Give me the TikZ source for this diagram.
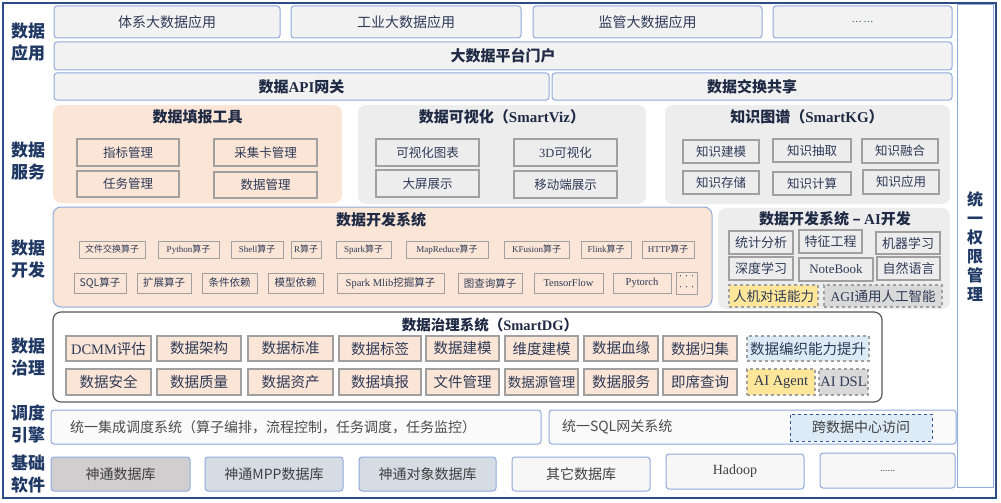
\documentclass[tikz,border=0pt]{standalone}
\usepackage{fontspec}
\setmainfont{Noto Sans CJK SC}
\newfontfamily\ser{Liberation Serif}
\newcommand\lat[1]{{\ser #1}}
\definecolor{navy}{HTML}{1F3864}
\definecolor{frame}{HTML}{2F4B85}
\definecolor{bl}{HTML}{8FAADC}
\definecolor{lg}{HTML}{F2F2F2}
\definecolor{peach}{HTML}{FBE5D6}
\definecolor{grayp}{HTML}{EDEDED}
\definecolor{gbd}{HTML}{A0A0A0}
\definecolor{txt}{HTML}{2E3A57}
\definecolor{ttl}{HTML}{1F2A44}
\definecolor{yel}{HTML}{FFE699}
\definecolor{lblue}{HTML}{DDEBF7}
\definecolor{dgray}{HTML}{D9D9D9}
\definecolor{dbl}{HTML}{2F5597}
\definecolor{bgray}{HTML}{D0CECE}
\definecolor{bblue}{HTML}{D6DCE4}
\definecolor{bwhite}{HTML}{F7F7F7}
\newcommand\bx[7]{\node[#6,minimum width={(#4)-(#2)},minimum height={(#5)-(#3)}] (#1) at ({((#2)+(#4))/2},{((#3)+(#5))/2}) {#7};}
\tikzset{
  every node/.style={inner sep=0pt,outer sep=0pt,text=txt},
  appbox/.style={draw=bl,fill=lg,line width=1pt,rounded corners=3pt,font=\fontsize{14}{16}\selectfont},
  appbold/.style={appbox,font=\fontsize{15}{17}\selectfont\bfseries,text=ttl},
  sidelbl/.style={align=center,font=\fontsize{17}{22}\selectfont\bfseries,text=navy},
  ttlnode/.style={font=\fontsize{15}{17}\selectfont\bfseries,text=ttl},
  peachpanel/.style={fill=peach,rounded corners=8pt},
  graypanel/.style={fill=grayp,rounded corners=8pt},
  svbox/.style={draw=gbd,line width=1.1pt,font=\fontsize{12.5}{14}\selectfont},
  opbox/.style={draw=gbd,line width=0.9pt,font=\fontsize{9}{10}\selectfont},
  opbox2/.style={draw=gbd,line width=0.9pt,font=\fontsize{10.5}{11}\selectfont},
  aibox/.style={draw=gbd,line width=1.1pt,fill=grayp,font=\fontsize{13}{14}\selectfont},
  dashbox/.style={draw=gbd,dashed,line width=1.1pt},
  gvbox/.style={draw=gbd,fill=peach,line width=1.2pt,font=\fontsize{14.5}{16}\selectfont},
  schbox/.style={draw=bl,fill=white!60!lg,line width=1pt,rounded corners=3pt,font=\fontsize{14}{16}\selectfont,text=black!70},
  basebox/.style={draw=bl,line width=1pt,rounded corners=3pt,font=\fontsize{14}{16}\selectfont,text=black!75}
}
\begin{document}
\begin{tikzpicture}[x=1pt,y=-1pt]
\useasboundingbox (0,0) rectangle (1001,503);
\fill[white] (0,0) rectangle (1001,503);
% outer frame
\draw[frame,line width=2pt] (3,3) rectangle (996,498);
% permission box
\bx{perm}{957}{5}{993}{487}{draw=bl,line width=1pt,fill=white}{}
\node[align=center,font=\fontsize{16}{19}\selectfont\bfseries,text=navy] (permt) at (975,247) {统\\一\\权\\限\\管\\理};
% side labels
\node[sidelbl] (l1) at (28,42) {数据\\应用};
\node[sidelbl] (l2) at (28,161) {数据\\服务};
\node[sidelbl] (l3) at (28,259) {数据\\开发};
\node[sidelbl] (l4) at (28,357) {数据\\治理};
\node[sidelbl] (l5) at (28,424) {调度\\引擎};
\node[sidelbl] (l6) at (28,474) {基础\\软件};
% application layer
\bx{a1}{54}{6}{280}{38}{appbox}{体系大数据应用}
\bx{a2}{291}{6}{521}{38}{appbox}{工业大数据应用}
\bx{a3}{533}{6}{762}{38}{appbox}{监管大数据应用}
\bx{a4}{773}{6}{952}{38}{appbox,font=\fontsize{9}{10}\selectfont}{…\ …}
\bx{a5}{54}{42}{952}{70}{appbold}{大数据平台门户}
\bx{a6}{54}{73}{549}{100}{appbold}{数据\lat{API}网关}
\bx{a7}{552}{73}{952}{100}{appbold}{数据交换共享}
% services
\bx{p1}{53}{105}{342}{203}{peachpanel}{}
\node[ttlnode] (p1t) at (197.5,117) {数据填报工具};
\bx{s1}{77}{139}{179}{166}{svbox}{指标管理}
\bx{s2}{214}{139}{317}{166}{svbox}{采集卡管理}
\bx{s3}{77}{171}{179}{197}{svbox}{任务管理}
\bx{s4}{214}{172}{317}{198}{svbox}{数据管理}
\bx{p2}{358}{105}{646}{204}{graypanel}{}
\node[ttlnode] (p2t) at (502,117) {数据可视化（\lat{SmartViz}）};
\bx{v1}{376}{139}{479}{166}{svbox}{可视化图表}
\bx{v2}{514}{139}{617}{166}{svbox}{\lat{3D}可视化}
\bx{v3}{376}{170}{479}{197}{svbox}{大屏展示}
\bx{v4}{514}{171}{617}{198}{svbox}{移动端展示}
\bx{p3}{665}{105}{950}{204}{graypanel}{}
\node[ttlnode] (p3t) at (807,117) {知识图谱（\lat{SmartKG}）};
\bx{k1}{683}{140}{759}{163}{svbox}{知识建模}
\bx{k2}{773}{139}{851}{162}{svbox}{知识抽取}
\bx{k3}{862}{139}{938}{163}{svbox}{知识融合}
\bx{k4}{683}{171}{759}{194}{svbox}{知识存储}
\bx{k5}{773}{172}{851}{195}{svbox}{知识计算}
\bx{k6}{863}{170}{939}{194}{svbox}{知识应用}
% development
\bx{pd}{53}{207}{712}{307}{peachpanel,draw=bl,line width=1pt}{}
\node[ttlnode] (pdt) at (381,220) {数据开发系统};
\bx{o1}{79}{241}{145}{258}{opbox}{文件交换算子}
\bx{o2}{158}{241}{219}{258}{opbox}{\lat{Python}算子}
\bx{o3}{231}{241}{283}{258}{opbox}{\lat{Shell}算子}
\bx{o4}{291}{241}{321}{258}{opbox}{\lat{R}算子}
\bx{o5}{336}{241}{391}{258}{opbox}{\lat{Spark}算子}
\bx{o6}{406}{241}{488}{258}{opbox}{\lat{MapReduce}算子}
\bx{o7}{504}{241}{569}{258}{opbox}{\lat{KFusion}算子}
\bx{o8}{581}{241}{631}{258}{opbox}{\lat{Flink}算子}
\bx{o9}{642}{241}{694}{258}{opbox}{\lat{HTTP}算子}
\bx{q1}{74}{273}{126}{293}{opbox2}{SQL算子}
\bx{q2}{137}{273}{191}{293}{opbox2}{扩展算子}
\bx{q3}{202}{273}{257}{293}{opbox2}{条件依赖}
\bx{q4}{268}{273}{323}{293}{opbox2}{模型依赖}
\bx{q5}{337}{273}{444}{293}{opbox2}{\lat{Spark Mlib}挖掘算子}
\bx{q6}{458}{273}{522}{293}{opbox2}{图查询算子}
\bx{q7}{534}{273}{603}{293}{opbox2}{\lat{TensorFlow}}
\bx{q8}{613}{273}{671}{293}{opbox2}{\lat{Pytorch}}
\bx{q9}{676}{272}{697}{294}{opbox2,align=center,font=\fontsize{6}{11}\selectfont}{···\\···}
\bx{pa}{718}{208}{950}{309}{graypanel}{}
\node[ttlnode] (pat) at (835,219) {数据开发系统 – \lat{AI}开发};
\bx{i1}{729}{231}{793}{254}{aibox}{统计分析}
\bx{i2}{799}{230}{862}{253}{aibox}{特征工程}
\bx{i3}{876}{232}{940}{254}{aibox}{机器学习}
\bx{i4}{729}{257}{793}{280}{aibox}{深度学习}
\bx{i5}{799}{258}{873}{281}{aibox}{\lat{NoteBook}}
\bx{i6}{877}{257}{940}{280}{aibox}{自然语言}
\bx{i7}{729}{285}{818}{307}{dashbox,fill=yel,font=\fontsize{13.5}{15}\selectfont}{人机对话能力}
\bx{i8}{824}{285}{942}{307}{dashbox,fill=dgray,font=\fontsize{13.5}{15}\selectfont}{\lat{AGI}通用人工智能}
% governance
\bx{pg}{53}{312}{882}{402}{draw=black!65,line width=1.2pt,fill=white,rounded corners=8pt}{}
\node[ttlnode,font=\fontsize{14.5}{16}\selectfont\bfseries] (pgt) at (490,325) {数据治理系统（\lat{SmartDG}）};
\bx{g1}{66}{336}{151}{361}{gvbox}{\lat{DCMM}评估}
\bx{g2}{157}{336}{241}{361}{gvbox}{数据架构}
\bx{g3}{248}{336}{333}{361}{gvbox}{数据标准}
\bx{g4}{339}{336}{421}{361}{gvbox}{数据标签}
\bx{g5}{426}{336}{499}{361}{gvbox}{数据建模}
\bx{g6}{505}{336}{578}{361}{gvbox}{维度建模}
\bx{g7}{584}{336}{658}{361}{gvbox}{数据血缘}
\bx{g8}{663}{336}{737}{361}{gvbox}{数据归集}
\bx{g9}{747}{336}{869}{361}{dashbox,fill=lblue,font=\fontsize{14.5}{16}\selectfont}{数据编织能力提升}
\bx{h1}{66}{369}{151}{395}{gvbox}{数据安全}
\bx{h2}{157}{369}{241}{395}{gvbox}{数据质量}
\bx{h3}{248}{369}{333}{395}{gvbox}{数据资产}
\bx{h4}{339}{369}{421}{395}{gvbox}{数据填报}
\bx{h5}{426}{369}{499}{395}{gvbox}{文件管理}
\bx{h6}{505}{369}{578}{395}{gvbox,font=\fontsize{13.5}{15}\selectfont}{数据源管理}
\bx{h7}{584}{369}{658}{395}{gvbox}{数据服务}
\bx{h8}{663}{369}{737}{395}{gvbox}{即席查询}
\bx{h9}{747}{369}{815}{395}{dashbox,fill=yel,font=\fontsize{14.5}{16}\selectfont}{\lat{AI Agent}}
\bx{h10}{819}{369}{868}{395}{dashbox,fill=dgray,font=\fontsize{14.5}{16}\selectfont}{\lat{AI DSL}}
% scheduling
\bx{c1}{51}{410}{541}{444}{schbox}{}
\node[anchor=west,font=\fontsize{14}{16}\selectfont,text=black!70] (c1t) at (70,427) {统一集成调度系统（算子编排，流程控制，任务调度，任务监控）};
\bx{c2}{549}{410}{956}{444}{schbox}{}
\node[anchor=west,font=\fontsize{14}{16}\selectfont,text=black!70] (c2t) at (562,427) {统一SQL网关系统};
\bx{c3}{790}{414}{932}{441}{draw=dbl,dashed,line width=0.9pt,fill=lblue,font=\fontsize{14}{16}\selectfont,text=black!75}{跨数据中心访问}
% base software
\bx{b1}{51}{457}{190}{491}{basebox,fill=bgray}{神通数据库}
\bx{b2}{205}{457}{343}{491}{basebox,fill=bblue}{神通MPP数据库}
\bx{b3}{359}{457}{496}{491}{basebox,fill=bblue}{神通对象数据库}
\bx{b4}{512}{457}{650}{491}{basebox,fill=bwhite}{其它数据库}
\bx{b5}{666}{454}{804}{489}{basebox,fill=bwhite}{\lat{Hadoop}}
\bx{b6}{820}{453}{955}{488}{basebox,fill=bwhite,font=\fontsize{9}{10}\selectfont}{......}
\end{tikzpicture}
\end{document}
